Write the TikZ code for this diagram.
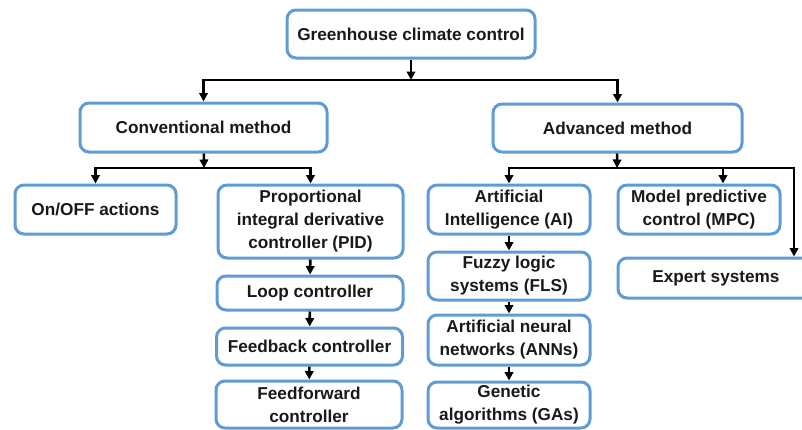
\documentclass[tikz,border=0pt]{standalone}
\usepackage{fontspec}
\setmainfont{Liberation Sans}
\usetikzlibrary{arrows.meta}
\definecolor{boxblue}{RGB}{96,156,212}
\definecolor{txt}{RGB}{25,25,25}
\begin{document}
\begin{tikzpicture}[x=1pt,y=-1pt,
  box/.style={draw=boxblue, line width=3pt, rounded corners=9pt, fill=white,
    align=center, inner sep=2pt, text=txt,
    font=\fontsize{17.2}{23}\selectfont\bfseries},
  arr/.style={draw=black, line width=2.6pt, -{Triangle[length=8.5pt,width=8.5pt]}}]
\useasboundingbox (0,0) rectangle (802,429);
\clip (0,0) rectangle (802,429);
% nodes
\node[box, minimum width=248, minimum height=48] (top) at (411,34) {Greenhouse climate control};
\node[box, minimum width=247, minimum height=49] (conv) at (203.5,127.5) {Conventional method};
\node[box, minimum width=249, minimum height=48] (adv) at (617.5,128) {Advanced method};
\node[box, minimum width=161, minimum height=49] (onoff) at (95.5,209.5) {On/OFF actions};
\node[box, minimum width=185, minimum height=73] (pid) at (310.5,221.5) {Proportional\\integral derivative\\controller (PID)};
\node[box, minimum width=186, minimum height=34] (loop) at (310,293) {Loop controller};
\node[box, minimum width=186, minimum height=37] (fb) at (309.5,346.5) {Feedback controller};
\node[box, minimum width=186, minimum height=47] (ff) at (309,404.5) {Feedforward\\controller};
\node[box, minimum width=162, minimum height=49] (ai) at (509,209.5) {Artificial\\Intelligence (AI)};
\node[box, minimum width=162, minimum height=48] (fls) at (509,276) {Fuzzy logic\\systems (FLS)};
\node[box, minimum width=162, minimum height=50] (ann) at (509,340) {Artificial neural\\networks (ANNs)};
\node[box, minimum width=162, minimum height=46] (ga) at (509,405) {Genetic\\algorithms (GAs)};
\node[box, minimum width=162, minimum height=49] (mpc) at (699,209.5) {Model predictive\\control (MPC)};
\node[box, minimum width=196, minimum height=40] (exp) at (716,278) {Expert systems};
% junctions
\coordinate (j1) at (411,80);
\coordinate (j2) at (204,168);
\coordinate (j3) at (617,168);
% connectors
\draw[arr] (top) -- (j1);
\draw[arr] (j1) -| (conv);
\draw[arr] (j1) -| (adv);
\draw[arr] (conv) -- (j2);
\draw[arr] (j2) -| (onoff);
\draw[arr] (j2) -| (pid);
\draw[arr] (pid) -- (loop);
\draw[arr] (loop) -- (fb);
\draw[arr] (fb) -- (ff);
\draw[arr] (adv) -- (j3);
\draw[arr] (j3) -| (ai);
\draw[arr] (j3) -| ([xshift=24pt]mpc.north);
\draw[arr] (j3) -| ([xshift=78pt]exp.north);
\draw[arr] (ai) -- (fls);
\draw[arr] (fls) -- (ann);
\draw[arr] (ann) -- (ga);
\end{tikzpicture}
\end{document}
